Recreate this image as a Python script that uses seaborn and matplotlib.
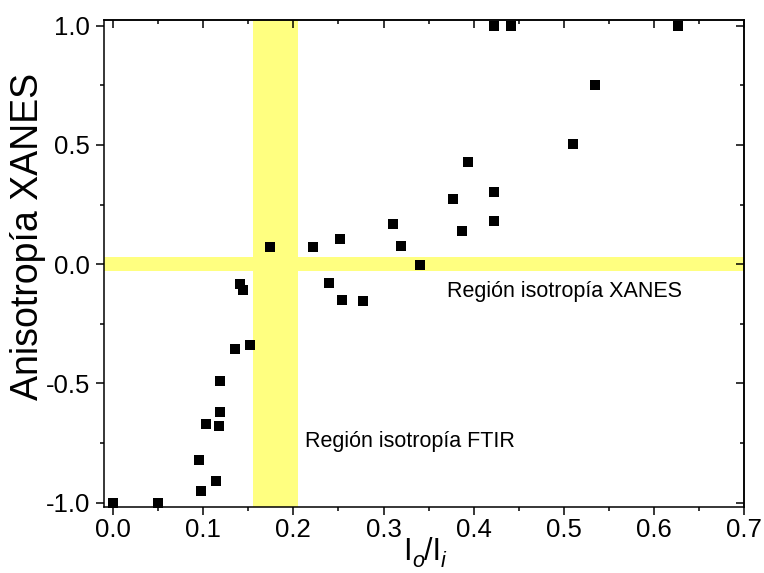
import matplotlib
matplotlib.use("Agg")
import matplotlib.pyplot as plt
import seaborn as sns
import pandas as pd
from matplotlib.ticker import MultipleLocator

# ---- data ----
ratio_x = [0.000, 0.050, 0.095, 0.0976, 0.1035, 0.1145, 0.1175, 0.1187, 0.1183,
           0.1356, 0.1516, 0.1408, 0.1445, 0.174, 0.222, 0.2517, 0.239, 0.2536,
           0.277, 0.311, 0.319, 0.340, 0.377, 0.387, 0.394, 0.422, 0.423,
           0.422, 0.441, 0.510, 0.5345, 0.627]
anisotropy = [-1.00, -1.00, -0.82, -0.95, -0.67, -0.909, -0.68, -0.62, -0.488,
              -0.356, -0.34, -0.082, -0.109, 0.071, 0.071, 0.104, -0.078, -0.15,
              -0.154, 0.169, 0.075, -0.005, 0.273, 0.14, 0.43, 0.303, 0.182,
              1.00, 1.00, 0.504, 0.751, 1.00]

ftir_band = [0.155, 0.205]      # isotropy region FTIR (x range)
xanes_band = [-0.03, 0.03]      # isotropy region XANES (y range)

xanes_label = "Región isotropía XANES"
ftir_label = "Región isotropía FTIR"
xanes_label_pos = [0.370, -0.136]
ftir_label_pos = [0.213, -0.768]

x_ticks = [0.0, 0.1, 0.2, 0.3, 0.4, 0.5, 0.6, 0.7]
y_ticks = [-1.0, -0.5, 0.0, 0.5, 1.0]

# x-axis title pieces: (text, italic subscript?)
xlabel_parts = [("I", False), ("o", True), ("/I", False), ("i", True)]
ylabel_text = "Anisotropía XANES"

df = pd.DataFrame({"x": ratio_x, "y": anisotropy})

sns.set_style("ticks")
plt.rcParams["font.family"] = ["Liberation Sans", "DejaVu Sans"]
for key in ["text.color", "axes.labelcolor", "xtick.color", "ytick.color",
            "axes.edgecolor", "xtick.labelcolor", "ytick.labelcolor"]:
    plt.rcParams[key] = "black"

W, H = 764, 573
fig = plt.figure(figsize=(W / 100, H / 100), dpi=100)
ax = fig.add_axes([0.1357, 0.1147, 0.9742 - 0.1357, 0.9646 - 0.1147])

band_color = "#FFFF80"
ax.axvspan(ftir_band[0], ftir_band[1], color=band_color, lw=0, zorder=0)
ax.axhspan(xanes_band[0], xanes_band[1], color=band_color, lw=0, zorder=0)

sns.scatterplot(data=df, x="x", y="y", ax=ax, marker="s", color="black",
                s=48, linewidth=0, zorder=3, clip_on=False, legend=False)

ax.text(xanes_label_pos[0], xanes_label_pos[1], xanes_label, fontsize=15.5,
        va="baseline", ha="left", color="black")
ax.text(ftir_label_pos[0], ftir_label_pos[1], ftir_label, fontsize=15.5,
        va="baseline", ha="left", color="black")

ax.set_xlim(-0.0103, 0.7)
ax.set_ylim(-1.0194, 1.0226)
ax.set_xticks(x_ticks)
ax.set_yticks(y_ticks)
ax.set_xticklabels([f"{v:.1f}" for v in x_ticks])
ax.set_yticklabels([f"{v:.1f}" for v in y_ticks])
ax.xaxis.set_minor_locator(MultipleLocator(0.05))
ax.yaxis.set_minor_locator(MultipleLocator(0.25))

for side in ["top", "right", "left", "bottom"]:
    ax.spines[side].set_visible(True)
    ax.spines[side].set_linewidth(1.1)
    ax.spines[side].set_color("black")

ax.tick_params(axis="both", which="major", length=6, width=1.1, labelsize=18.5,
               color="black", labelcolor="black")
ax.tick_params(axis="both", which="minor", length=3, width=1.1, color="black")
ax.tick_params(axis="x", which="both", direction="out", top=False, bottom=True, pad=2)
ax.tick_params(axis="y", which="both", direction="out", left=True, right=False, pad=4)

# mirrored inward ticks on top and right via secondary axes
top = ax.secondary_xaxis("top")
top.set_xticks(x_ticks)
top.xaxis.set_minor_locator(MultipleLocator(0.05))
top.tick_params(which="major", direction="in", length=6, width=1.1, labeltop=False)
top.tick_params(which="minor", direction="in", length=3, width=1.1)
top.spines["top"].set_linewidth(1.1)
right = ax.secondary_yaxis("right")
right.set_yticks(y_ticks)
right.yaxis.set_minor_locator(MultipleLocator(0.25))
right.tick_params(which="major", direction="in", length=6, width=1.1, labelright=False)
right.tick_params(which="minor", direction="in", length=3, width=1.1)
right.spines["right"].set_linewidth(1.1)

ax.set_xlabel("")
ax.set_ylabel(ylabel_text, fontsize=27, color="black")
ax.yaxis.set_label_coords(-0.090, 0.556)

# x-axis title built from pieces so the subscripts sit low as in the reference
renderer = fig.canvas.get_renderer()
x_px = 403.5
base_px = 560.5
for txt, is_sub in xlabel_parts:
    size = 15.5 if is_sub else 22
    dy = 6.5 if is_sub else 0.0
    t = fig.text(x_px / W, 1 - (base_px + dy) / H, txt, fontsize=size,
                 style="italic" if is_sub else "normal",
                 ha="left", va="baseline", color="black")
    x_px += t.get_window_extent(renderer).width

fig.savefig("out.png", dpi=100)
